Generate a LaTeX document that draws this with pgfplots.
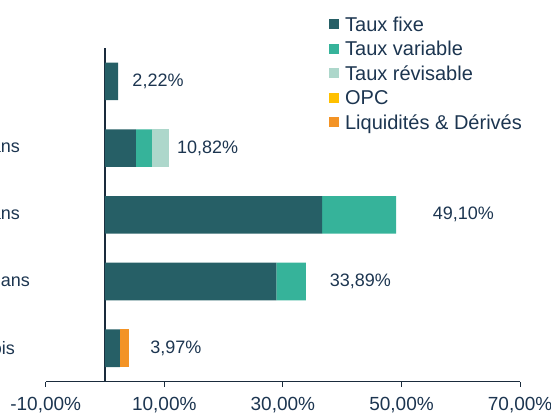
\documentclass[border=0pt]{standalone}
\usepackage{pgfplots}
\pgfplotsset{compat=1.18}
\usepackage{fontspec}
\setmainfont{Liberation Sans}
\definecolor{cfixe}{HTML}{265F66}
\definecolor{cvar}{HTML}{36B39A}
\definecolor{crev}{HTML}{ADD7CB}
\definecolor{copc}{HTML}{FFC000}
\definecolor{cliq}{HTML}{F39325}
\definecolor{ctext}{HTML}{1C3550}
\definecolor{caxis}{HTML}{1A2B3C}
\newcommand{\vfont}{\fontsize{18}{21}\selectfont}
\begin{document}
\begin{tikzpicture}
\begin{axis}[
  at={(0,0)}, anchor=south west,
  scale only axis, width=474.4pt, height=333.7pt,
  xbar stacked, bar width=37.7pt,
  xmin=-10, xmax=70, ymin=-0.5, ymax=4.5,
  axis x line=bottom, axis y line=middle,
  axis line style={-, color=caxis, line width=1.2pt},
  ytick=\empty,
  xtick={-10,10,30,50,70},
  xticklabels={{-10,00\%},{10,00\%},{30,00\%},{50,00\%},{70,00\%}},
  xtick align=outside, major tick length=5pt,
  tick style={color=caxis, line width=1.1pt},
  xticklabel style={font=\fontsize{19}{22}\selectfont, text=ctext, yshift=-7pt},
  clip=false,
  legend image code/.code={\fill[#1] (0pt,1.8pt) rectangle (10pt,11.8pt);},
  legend style={at={(rel axis cs:0.597,1)}, anchor=north west, yshift=31.3pt,
    draw=none, fill=none, inner sep=0pt, row sep=6pt,
    font=\fontsize{20}{24}\selectfont, text=ctext,
    cells={anchor=base west},
    nodes={inner sep=0pt, text height=14.3pt, text depth=4.2pt},
    /tikz/every odd column/.append style={column sep=6pt}},
]
\addplot[fill=cfixe, draw=none] coordinates {(2.5,0) (28.9,1) (36.6,2) (5.2,3) (2.22,4)};
\addplot[fill=cvar, draw=none] coordinates {(0,0) (4.99,1) (12.5,2) (2.7,3) (0,4)};
\addplot[fill=crev, draw=none] coordinates {(0,0) (0,1) (0,2) (2.92,3) (0,4)};
\addplot[fill=copc, draw=none] coordinates {(0,0) (0,1) (0,2) (0,3) (0,4)};
\addplot[fill=cliq, draw=none] coordinates {(1.47,0) (0,1) (0,2) (0,3) (0,4)};
\legend{Taux fixe, Taux variable, Taux révisable, OPC, Liquidités \& Dérivés}
\node[font=\vfont, text=ctext] at (axis cs:8.94,4) {2,22\%};
\node[font=\vfont, text=ctext] at (axis cs:17.3,3) {10,82\%};
\node[font=\vfont, text=ctext] at (axis cs:60.45,2) {49,10\%};
\node[font=\vfont, text=ctext] at (axis cs:43.05,1) {33,89\%};
\node[font=\vfont, text=ctext] at (axis cs:11.95,0) {3,97\%};
\node[font=\vfont, text=ctext, anchor=east, inner sep=0pt] at ([xshift=-25.7pt]axis cs:-10,3) {ans};
\node[font=\vfont, text=ctext, anchor=east, inner sep=0pt] at ([xshift=-25.7pt]axis cs:-10,2) {ans};
\node[font=\vfont, text=ctext, anchor=east, inner sep=0pt] at ([xshift=-15.7pt]axis cs:-10,1) {ans};
\node[font=\vfont, text=ctext, anchor=east, inner sep=0pt] at ([xshift=-30.7pt]axis cs:-10,0) {mois};
\end{axis}
\pgfresetboundingbox
\useasboundingbox (-45.7pt,-30.3pt) rectangle (505.3pt,381.7pt);
\end{tikzpicture}
\end{document}
